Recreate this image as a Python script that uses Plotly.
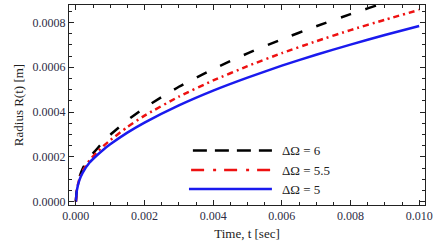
import plotly.graph_objects as go

t = [0, 0.00003, 0.0001, 0.0002, 0.0004, 0.0006, 0.0008, 0.001, 0.0015, 0.002, 0.003,
     0.004, 0.005, 0.006, 0.007, 0.008, 0.009, 0.010]
r_6 = [0, 0.000058, 0.000108, 0.000148, 0.000198, 0.000233, 0.000268, 0.000298, 0.000363,
       0.000419, 0.000513, 0.000592, 0.000662, 0.000725, 0.000783, 0.000837,
       0.000888, 0.000936]
r_55 = [0, 0.000054, 0.000100, 0.000138, 0.000185, 0.000218, 0.000248, 0.000274, 0.000333,
        0.000384, 0.000469, 0.000541, 0.000605, 0.000663, 0.000716, 0.000766,
        0.000812, 0.000856]
r_5 = [0, 0.000051, 0.000095, 0.000130, 0.000175, 0.000205, 0.000232, 0.000256, 0.000308,
       0.000353, 0.000430, 0.000496, 0.000554, 0.000607, 0.000656, 0.000701,
       0.000744, 0.000784]

x_ticks = [0, 0.002, 0.004, 0.006, 0.008, 0.010]
x_labels = ["0.000", "0.002", "0.004", "0.006", "0.008", "0.010"]
y_ticks = [0, 0.0002, 0.0004, 0.0006, 0.0008]
y_labels = ["0.0000", "0.0002", "0.0004", "0.0006", "0.0008"]

# name, values, colour, dash in plot, dash in legend, legend x-start (paper)
series = [
    ("ΔΩ = 6", r_6, "black", "11px,15px", "14px,8px", 0.348),
    ("ΔΩ = 5.5", r_55, "#ee1111", "6px,4px,2px,4px", "13px,9px,3px,8px", 0.343),
    ("ΔΩ = 5", r_5, "#1a1aee", "solid", "solid", 0.337),
]

fig = go.Figure()
legend_rows = [0.272, 0.175, 0.08]
for (name, r, color, dash, ldash, lx0), ly in zip(series, legend_rows):
    fig.add_trace(go.Scatter(x=t, y=r, name=name, mode="lines", showlegend=False,
                             line=dict(color=color, width=2.5, dash=dash,
                                       shape="spline", smoothing=0.5)))
    # legend entry: long sample line + label
    fig.add_shape(type="line", xref="paper", yref="paper", x0=lx0, x1=0.570,
                  y0=ly, y1=ly, line=dict(color=color, width=2.5, dash=ldash))
    fig.add_annotation(xref="paper", yref="paper", x=0.593, y=ly, text=name,
                       showarrow=False, xanchor="left", yanchor="middle",
                       font=dict(family="Liberation Serif", size=13, color="#222"))

font = dict(family="Liberation Serif", size=12, color="#2d2d45")
axis_common = dict(showgrid=False, zeroline=False, showline=True, linecolor="#222",
                   linewidth=1, mirror="allticks", ticks="inside", ticklen=5,
                   tickcolor="#222", tickfont=font, automargin=False,
                   ticklabeloverflow="allow")
fig.update_xaxes(range=[-0.0002, 0.01017], tickvals=x_ticks, ticktext=x_labels,
                 minor=dict(dtick=0.0005, ticks="inside", ticklen=3, tickcolor="#222"),
                 title=dict(text="Time, t [sec]", font=dict(family="Liberation Serif", size=13, color="#222"), standoff=6),
                 **axis_common)
fig.update_yaxes(range=[-0.000015, 0.000878], tickvals=y_ticks, ticktext=y_labels,
                 minor=dict(dtick=0.00005, ticks="inside", ticklen=3, tickcolor="#222"),
                 title=dict(text="Radius R(t) [m]", font=dict(family="Liberation Serif", size=13, color="#222"), standoff=6),
                 **axis_common)
fig.update_layout(width=436, height=249, margin=dict(l=69, r=11, t=5, b=44),
                  paper_bgcolor="white", plot_bgcolor="white", showlegend=False)
fig.write_html("out.html", config={"displayModeBar": False},
               post_script="document.body.style.margin='0';")
